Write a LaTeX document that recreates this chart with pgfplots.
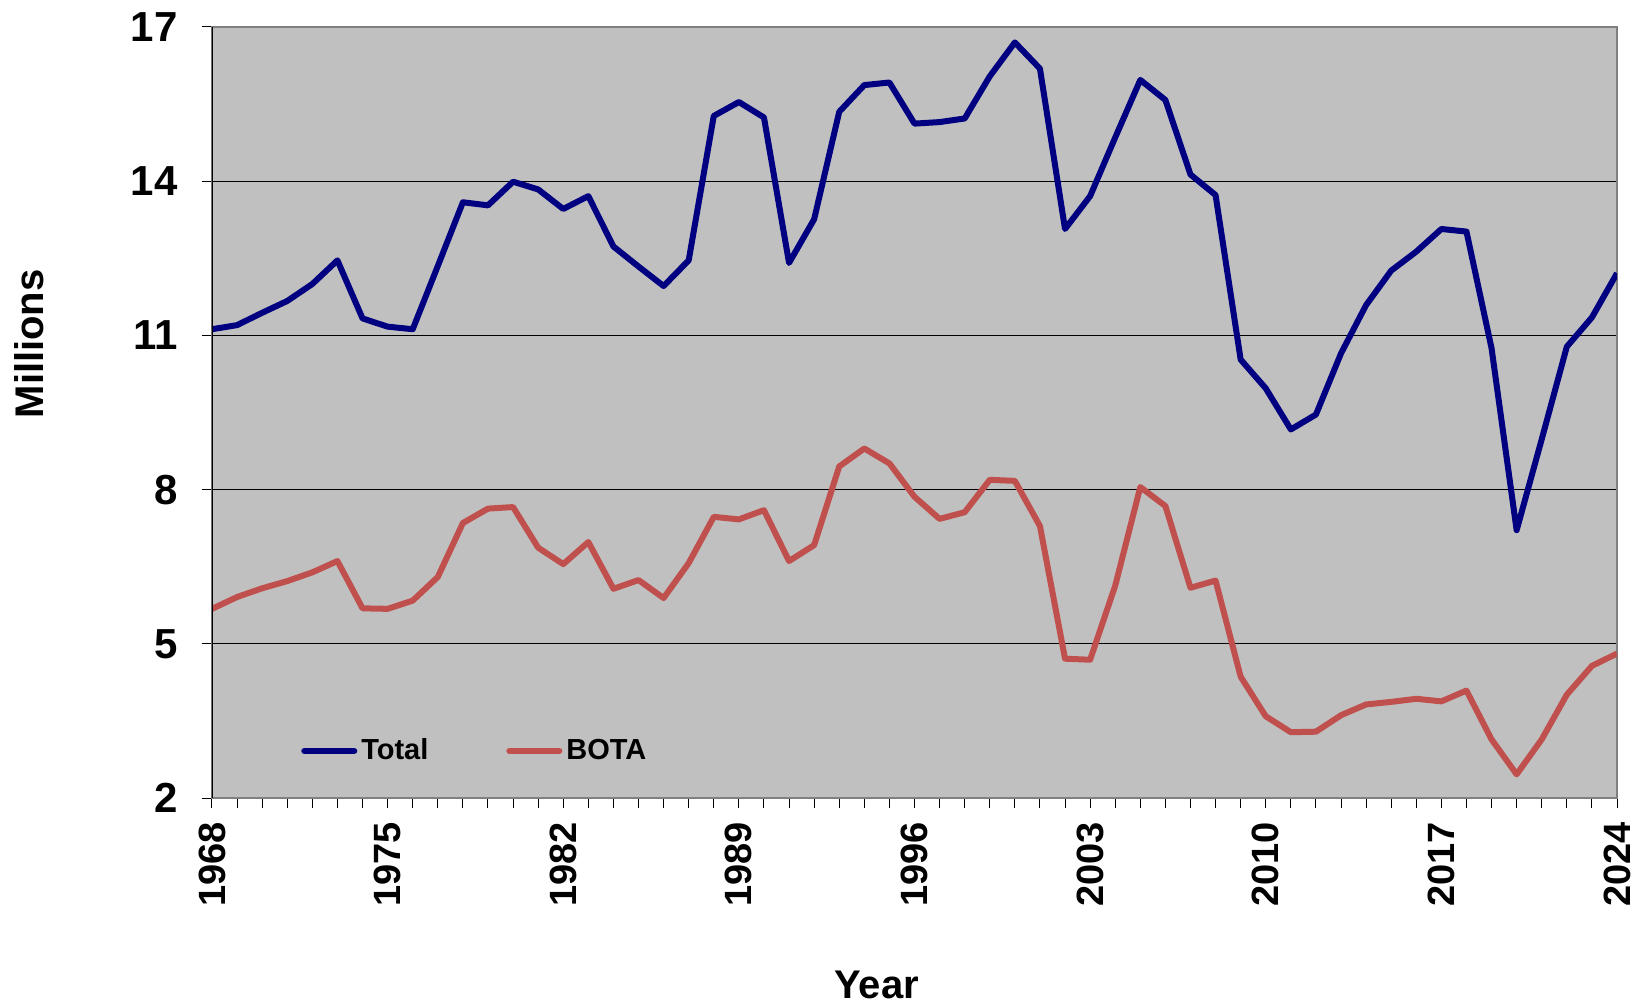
\documentclass[border=0pt]{standalone}
\usepackage{pgfplots}
\pgfplotsset{compat=1.18}
\usepackage{pgfplotstable}
\usepackage{fontspec}
\setmainfont{Liberation Sans}
\definecolor{navyline}{RGB}{0,0,128}
\definecolor{botared}{RGB}{192,80,77}
\definecolor{plotbg}{RGB}{192,192,192}

\pgfplotstableread{
year total bota
1968 11.12 5.68
1969 11.20 5.91
1970 11.44 6.08
1971 11.67 6.22
1972 12.00 6.39
1973 12.46 6.61
1974 11.33 5.69
1975 11.17 5.68
1976 11.12 5.84
1977 12.35 6.30
1978 13.59 7.35
1979 13.53 7.63
1980 13.99 7.66
1981 13.84 6.87
1982 13.46 6.55
1983 13.71 6.98
1984 12.73 6.07
1985 12.34 6.24
1986 11.96 5.89
1987 12.46 6.57
1988 15.27 7.47
1989 15.54 7.42
1990 15.24 7.60
1991 12.41 6.61
1992 13.26 6.92
1993 15.35 8.45
1994 15.87 8.80
1995 15.92 8.51
1996 15.12 7.86
1997 15.15 7.43
1998 15.22 7.56
1999 16.04 8.19
2000 16.70 8.17
2001 16.19 7.29
2002 13.07 4.71
2003 13.71 4.69
2004 14.85 6.13
2005 15.97 8.05
2006 15.58 7.68
2007 14.13 6.09
2008 13.73 6.23
2009 10.53 4.36
2010 9.97 3.59
2011 9.17 3.28
2012 9.46 3.29
2013 10.65 3.61
2014 11.59 3.82
2015 12.26 3.87
2016 12.63 3.93
2017 13.07 3.88
2018 13.02 4.09
2019 10.75 3.14
2020 7.21 2.46
2021 8.98 3.14
2022 10.78 4.01
2023 11.35 4.57
2024 12.21 4.81
}\datatable

\begin{document}
\begin{tikzpicture}[font=\bfseries]
\useasboundingbox (-106bp,-105bp) rectangle (716.5bp,399bp);
\begin{axis}[
  at={(0,0)}, anchor=south west,
  scale only axis, width=702.5bp, height=385.5bp,
  xmin=1968, xmax=2024, ymin=2, ymax=17,
  ytick={2,5,8,11,14,17},
  xtick={1968,1975,1982,1989,1996,2003,2010,2017,2024},
  minor x tick num=6,
  ymajorgrids, grid style={black, line width=0.6pt},
  axis background/.style={fill=plotbg},
  axis line style={gray, line width=1.2pt},
  tick align=outside, tick pos=left,
  major tick length=5bp, minor tick length=5bp,
  every tick/.style={black, line width=0.5pt},
  /pgf/number format/assume math mode=true,
  /pgf/number format/1000 sep={},
  tick label style={font=\fontsize{19bp}{19bp}\selectfont\bfseries},
  yticklabel style={font=\fontsize{21bp}{21bp}\selectfont\bfseries},
  xticklabel style={rotate=90, anchor=east, inner sep=0pt},
  yticklabel style={anchor=east, inner sep=0pt},
  xticklabel shift=7bp,
  yticklabel shift=12bp,
  xlabel={Year}, ylabel={Millions},
  label style={font=\fontsize{20bp}{20bp}\selectfont\bfseries},
  xlabel style={at={(axis description cs:0.473,-0.2425)}, anchor=center},
  ylabel style={at={(axis description cs:-0.130,0.589)}, anchor=center},
  legend style={at={(axis description cs:0.059,0.061)}, anchor=west,
    draw=none, fill=none, legend columns=2,
    font=\fontsize{14.5bp}{14.5bp}\selectfont\bfseries,
    /tikz/every even column/.append style={column sep=37bp}},
  legend image code/.code={\draw[#1, line cap=round] (0bp,0bp) -- (25bp,0bp);},
]
\addplot[navyline, line width=3bp, line join=round] table[x=year, y=total] {\datatable};
\addlegendentry{Total}
\addplot[botared, line width=3bp, line join=round] table[x=year, y=bota] {\datatable};
\addlegendentry{BOTA}
\draw[black, line width=1pt] (rel axis cs:0,0) -- (rel axis cs:0,1);
\end{axis}
\end{tikzpicture}
\end{document}
